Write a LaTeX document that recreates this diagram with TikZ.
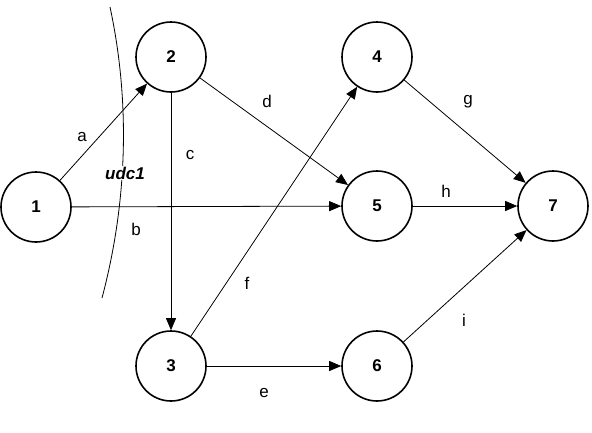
\documentclass[tikz,border=0pt]{standalone}
\usepackage{fontspec}
\setmainfont{Liberation Sans}
\usetikzlibrary{arrows.meta}
\begin{document}
\begin{tikzpicture}[x=1pt,y=-1pt,
  vertex/.style={circle,draw,line width=1.6pt,minimum size=70pt,inner sep=0pt,font=\fontsize{17}{17}\selectfont\bfseries},
  edge/.style={line width=0.8pt,-{Triangle[length=12pt,width=10pt]}},
  lbl/.style={font=\fontsize{17}{17}\selectfont}]
\useasboundingbox (0,0) rectangle (592,432);
\node[vertex] (n1) at (36,207) {1};
\node[vertex] (n2) at (171,57) {2};
\node[vertex] (n3) at (171,366) {3};
\node[vertex] (n4) at (377,57) {4};
\node[vertex] (n5) at (377,206) {5};
\node[vertex] (n6) at (377,366) {6};
\node[vertex] (n7) at (553,206) {7};
\draw[edge] (n1) -- (n2);
\draw[edge] (n1) -- (n5);
\draw[edge] (n2) -- (n5);
\draw[edge] (n2) -- (n3);
\draw[edge] (n3) -- (n4);
\draw[edge] (n3) -- (n6);
\draw[edge] (n4) -- (n7);
\draw[edge] (n5) -- (n7);
\draw[edge] (n6) -- (n7);
\draw[line width=0.8pt] (110,7) .. controls (130,100) and (128,200) .. (102,298);
\node[fill=white,inner sep=1pt,font=\fontsize{17}{17}\selectfont\bfseries\itshape] (u) at (125,173) {udc1};
\node[lbl] (la) at (82,137) {a};
\node[lbl] (lb) at (136,229) {b};
\node[lbl] (lc) at (190,155) {c};
\node[lbl] (ld) at (267,101) {d};
\node[lbl] (le) at (264,393) {e};
\node[lbl] (lf) at (247,283) {f};
\node[lbl] (lg) at (468,102) {g};
\node[lbl] (lh) at (446,191) {h};
\node[lbl] (li) at (464,320) {i};
\end{tikzpicture}
\end{document}
